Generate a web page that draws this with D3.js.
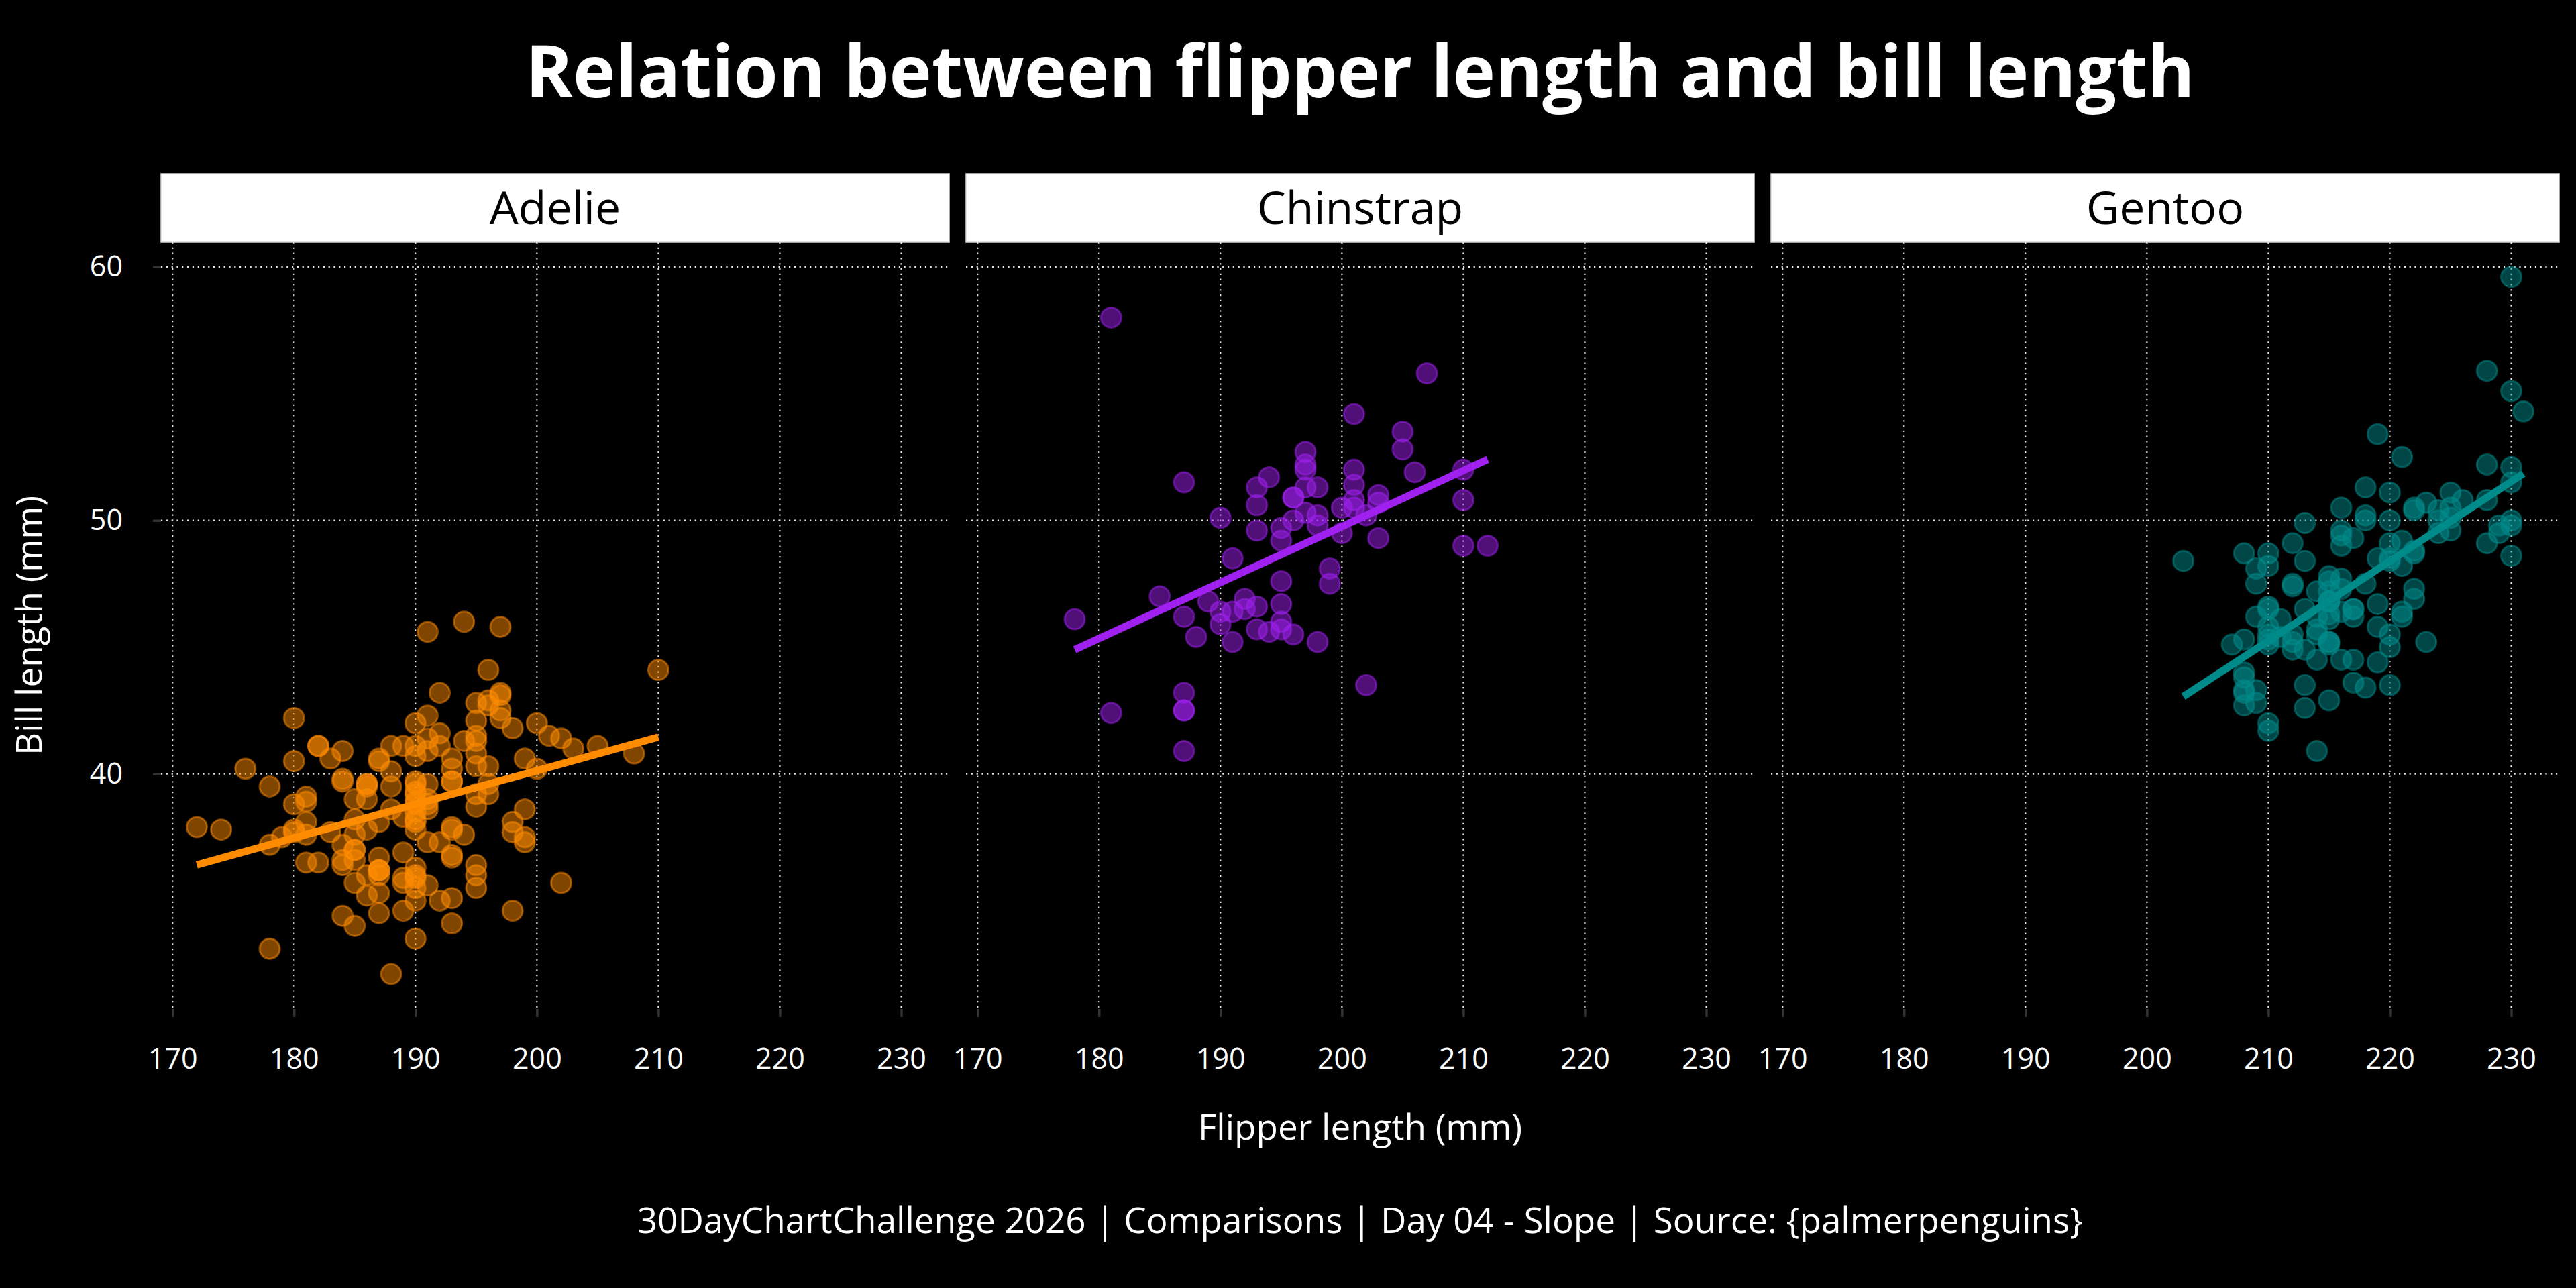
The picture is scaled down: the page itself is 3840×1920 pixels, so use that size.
<!DOCTYPE html>
<html>
<head>
<meta charset="utf-8">
<script src="https://cdn.jsdelivr.net/npm/d3@7"></script>
<style>
html,body{margin:0;padding:0;background:#000;}
svg{display:block;}
text{font-family:"Open Sans",sans-serif;}
</style>
</head>
<body>
<svg id="chart" width="3840" height="1920"></svg>
<script>
// ---------------- DATA ----------------
const species = ["Adelie", "Chinstrap", "Gentoo"];
const speciesColors = ["#FF8C00", "#A020F0", "#008B8B"];
const xTicks = [170, 180, 190, 200, 210, 220, 230];
const yTicks = [40, 50, 60];

const adelieFlipper = [181,186,195,193,190,181,195,193,190,186,180,182,191,198,185,195,197,184,194,
  174,180,189,185,180,187,183,187,172,180,
  178,178,188,184,195,196,190,180,181,184,182,195,186,196,185,190,182,179,190,191,
  186,188,190,200,187,191,186,193,181,194,185,195,185,192,184,192,195,188,
  190,198,190,190,196,197,190,195,191,184,187,195,189,196,187,193,191,194,
  190,189,189,190,202,205,185,186,187,208,190,196,178,192,
  192,203,183,190,193,184,199,190,181,197,198,191,193,197,191,196,
  188,199,189,189,187,198,176,202,186,199,191,195,191,210,190,197,
  193,199,187,190,191,200,185,193,193,187,188,190,192,185,190,184,195,193,187,201];
const adelieBill = [39.1,39.5,40.3,36.7,39.3,38.9,39.2,34.1,42.0,37.8,37.8,41.1,38.6,34.6,36.6,38.7,42.5,34.4,46.0,
  37.8,37.7,35.9,38.2,38.8,35.3,40.6,40.5,37.9,40.5,
  39.5,37.2,39.5,40.9,36.4,39.2,38.8,42.2,37.6,39.8,36.5,40.8,36.0,44.1,37.0,39.6,41.1,37.5,36.0,42.3,
  39.6,40.1,35.0,42.0,34.5,41.4,39.0,40.6,36.5,37.6,35.7,41.3,37.6,41.1,36.4,41.6,35.5,41.1,
  35.9,41.8,33.5,39.7,39.6,45.8,35.5,42.8,40.9,37.2,36.2,42.1,34.6,42.9,36.7,35.1,37.3,41.3,
  36.3,36.9,38.3,38.9,35.7,41.1,34.0,39.6,36.2,40.8,38.1,40.3,33.1,43.2,
  35.0,41.0,37.7,37.8,37.9,39.7,38.6,38.2,38.1,43.2,38.1,45.6,39.7,42.2,39.6,42.7,
  38.6,37.3,35.7,41.1,36.2,37.7,40.2,41.4,35.2,40.6,38.8,41.5,39.0,44.1,38.5,43.1,
  36.8,37.5,38.1,41.1,35.6,40.2,37.0,39.7,40.2,40.6,32.1,40.7,37.3,39.0,39.2,36.6,36.0,37.8,36.0,41.5];

const chinstrapFlipper = [192,196,193,188,197,198,178,197,195,198,193,194,185,201,190,201,197,181,190,195,
  181,191,187,193,195,197,200,200,191,205,187,201,187,203,195,199,195,210,192,205,
  210,187,196,196,196,201,190,212,187,198,199,201,193,203,187,197,191,203,202,194,
  206,189,195,207,202,193,210,198];
const chinstrapBill = [46.5,50.0,51.3,45.4,52.7,45.2,46.1,51.3,46.0,51.3,46.6,51.7,47.0,52.0,45.9,50.5,50.3,58.0,46.4,49.2,
  42.4,48.5,43.2,50.6,46.7,52.0,50.5,49.5,46.4,52.8,40.9,54.2,42.5,51.0,49.7,47.5,47.6,52.0,46.9,53.5,
  49.0,46.2,50.9,45.5,50.9,50.8,50.1,49.0,51.5,49.8,48.1,51.4,45.7,50.7,42.5,52.2,45.2,49.3,50.2,45.6,
  51.9,46.8,45.7,55.8,43.5,49.6,50.8,50.2];

const gentooFlipper = [211,230,210,218,215,210,211,219,209,215,214,216,214,213,210,217,210,221,209,222,
  218,215,213,215,215,215,216,215,210,220,222,209,207,230,
  220,220,213,219,208,208,208,225,210,216,222,217,210,225,213,215,210,220,210,225,
  217,220,208,220,208,224,208,221,214,231,219,230,214,229,220,223,216,221,221,217,
  216,230,209,220,215,223,
  212,221,212,224,212,228,218,218,212,230,218,228,212,224,214,226,216,222,203,225,
  219,228,215,228,216,215,210,219,208,209,216,229,213,230,217,230,217,222,214,215,
  222,212,213];
const gentooBill = [46.1,50.0,48.7,50.0,47.6,46.5,45.4,46.7,43.3,46.8,40.9,49.0,45.5,48.4,45.8,49.3,42.0,49.2,46.2,48.7,
  50.2,45.1,46.5,46.3,42.9,46.1,44.5,47.8,48.2,50.0,47.3,42.8,45.1,59.6,
  49.1,48.4,42.6,44.4,44.0,48.7,42.7,49.6,45.3,49.6,50.5,43.6,45.5,50.5,44.9,45.2,46.6,48.5,45.1,50.1,
  46.5,45.0,43.8,45.5,43.2,50.4,45.3,46.2,45.7,54.3,45.8,49.8,46.2,49.5,43.5,50.7,47.7,46.4,48.2,46.5,
  46.4,48.6,47.5,51.1,45.2,45.2,
  49.1,52.5,47.4,50.0,44.9,50.8,43.4,51.3,47.5,52.1,47.5,52.2,45.5,49.5,44.5,50.8,49.4,46.9,48.4,51.1,
  48.5,55.9,47.2,49.1,47.3,46.8,41.7,53.4,43.3,48.1,50.5,49.8,43.5,51.5,46.2,55.1,44.5,48.8,47.2,46.8,
  50.4,45.2,49.9];

const titleText = "Relation between flipper length and bill length";
const xTitle = "Flipper length (mm)";
const yTitle = "Bill length (mm)";
const captionText = "30DayChartChallenge 2026 | Comparisons | Day 04 - Slope | Source: {palmerpenguins}";

// ---------------- BUILD ----------------
const flippers = [adelieFlipper, chinstrapFlipper, gentooFlipper];
const bills = [adelieBill, chinstrapBill, gentooBill];

const svg = d3.select("#chart");
svg.append("rect").attr("width", 3840).attr("height", 1920).attr("fill", "#000");

const panelTop = 361, panelBottom = 1504;
const panelLefts = [240, 1440, 2640];
const panelW = 1175;

// ggplot-like 5% expansion of combined data range
const allX = flippers.flat(), allY = bills.flat();
const [xMin, xMax] = d3.extent(allX), [yMin, yMax] = d3.extent(allY);
const xPad = (xMax - xMin) * 0.05, yPad = (yMax - yMin) * 0.05;

const y = d3.scaleLinear().domain([yMin - yPad, yMax + yPad]).range([panelBottom, panelTop]);

function lm(xs, ys) {
  const mx = d3.mean(xs), my = d3.mean(ys);
  let sxy = 0, sxx = 0;
  xs.forEach((v, i) => { sxy += (v - mx) * (ys[i] - my); sxx += (v - mx) * (v - mx); });
  const b = sxy / sxx;
  return { b, a: my - b * mx };
}

species.forEach((sp, i) => {
  const left = panelLefts[i];
  const x = d3.scaleLinear().domain([xMin - xPad, xMax + xPad]).range([left, left + panelW]);
  const g = svg.append("g");

  // strip
  g.append("rect").attr("x", left).attr("y", 259).attr("width", panelW).attr("height", 102)
    .attr("fill", "#fff").attr("stroke", "#d9d9d9").attr("stroke-width", 1.5);
  g.append("text").attr("x", left + panelW / 2).attr("y", 334)
    .attr("text-anchor", "middle").attr("font-size", 68).attr("fill", "#000").text(sp);

  // grid
  const grid = g.append("g").attr("stroke", "#e6e6e6").attr("stroke-width", 2.2)
    .attr("stroke-dasharray", "2.2,5.6");
  grid.selectAll(".gx").data(xTicks).join("line")
    .attr("x1", d => x(d)).attr("x2", d => x(d))
    .attr("y1", panelTop).attr("y2", panelBottom);
  grid.selectAll(".gy").data(yTicks).join("line")
    .attr("x1", left).attr("x2", left + panelW)
    .attr("y1", d => y(d)).attr("y2", d => y(d));

  // x axis
  const xAxis = d3.axisBottom(x).tickValues(xTicks).tickSize(12).tickPadding(46).tickFormat(d3.format("d"));
  const ax = g.append("g").attr("transform", `translate(0,${panelBottom})`).call(xAxis);
  ax.select(".domain").remove();
  ax.selectAll(".tick line").attr("stroke", "#333333").attr("stroke-width", 3.5);
  ax.selectAll(".tick text").attr("fill", "#ffffff").attr("font-size", 43)
    .attr("font-family", "'Open Sans', sans-serif");

  // y axis only on first panel
  if (i === 0) {
    const yAxis = d3.axisLeft(y).tickValues(yTicks).tickSize(12).tickPadding(45);
    const ay = g.append("g").attr("transform", `translate(${left},0)`).call(yAxis);
    ay.select(".domain").remove();
    ay.selectAll(".tick line").attr("stroke", "#333333").attr("stroke-width", 3.5);
    ay.selectAll(".tick text").attr("fill", "#ffffff").attr("font-size", 43)
      .attr("font-family", "'Open Sans', sans-serif");
  }

  // points
  const pts = flippers[i].map((f, k) => ({ f, b: bills[i][k] }));
  g.append("g").selectAll("circle").data(pts).join("circle")
    .attr("cx", d => x(d.f)).attr("cy", d => y(d.b)).attr("r", 15)
    .attr("fill", speciesColors[i]).attr("fill-opacity", 0.5)
    .attr("stroke", speciesColors[i]).attr("stroke-opacity", 0.5).attr("stroke-width", 3);

  // regression line
  const fit = lm(flippers[i], bills[i]);
  const [fx0, fx1] = d3.extent(flippers[i]);
  const lineData = [fx0, fx1].map(v => [v, fit.a + fit.b * v]);
  g.append("path").datum(lineData)
    .attr("d", d3.line().x(d => x(d[0])).y(d => y(d[1])))
    .attr("stroke", speciesColors[i]).attr("stroke-width", 11).attr("fill", "none");
});

// titles
const cx = (panelLefts[0] + panelLefts[2] + panelW) / 2;
svg.append("text").attr("x", cx).attr("y", 145).attr("text-anchor", "middle")
  .attr("font-size", 107).attr("font-weight", 700).attr("fill", "#fff").text(titleText);
svg.append("text").attr("x", cx).attr("y", 1699).attr("text-anchor", "middle")
  .attr("font-size", 53).attr("fill", "#fff").text(xTitle);
svg.append("text").attr("transform", `translate(62,${(panelTop + panelBottom) / 2}) rotate(-90)`)
  .attr("text-anchor", "middle").attr("font-size", 53).attr("fill", "#fff").text(yTitle);
svg.append("text").attr("x", cx).attr("y", 1838).attr("text-anchor", "middle")
  .attr("font-size", 53).attr("fill", "#fff").text(captionText);
</script>
</body>
</html>
